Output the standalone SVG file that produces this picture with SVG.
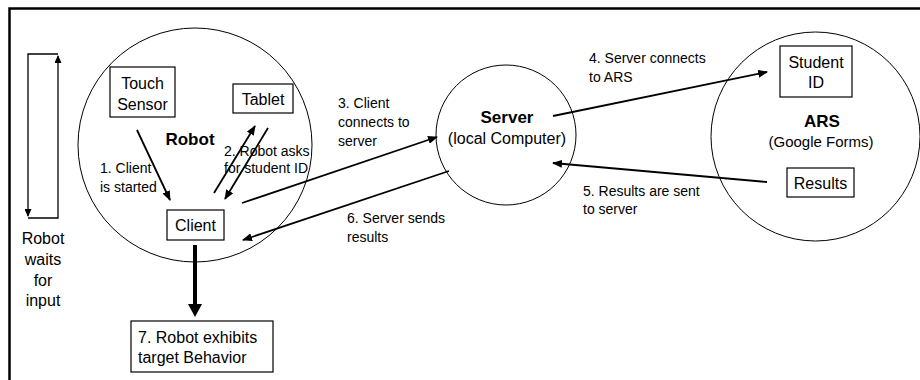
<svg xmlns="http://www.w3.org/2000/svg" width="920" height="380" viewBox="0 0 920 380">
<style>
.t{font-family:"Liberation Sans",Arial,sans-serif;font-size:16px;fill:#000}
.b{font-weight:bold;font-size:17px}
.l{font-size:14px}
.m{text-anchor:middle}
.box{fill:#fff;stroke:#000;stroke-width:1.2}
.circ{fill:none;stroke:#000;stroke-width:1}
.arr{fill:none;stroke:#000;stroke-width:1.8;marker-end:url(#ah)}
</style>
<defs>
<marker id="ah" markerUnits="userSpaceOnUse" markerWidth="10" markerHeight="8" refX="9" refY="4" orient="auto">
<path d="M0,0 L10,4 L0,8 Z" fill="#000"/>
</marker>
<marker id="ahs" markerUnits="userSpaceOnUse" markerWidth="8" markerHeight="7" refX="7" refY="3.5" orient="auto">
<path d="M0,0 L8,3.5 L0,7 Z" fill="#000"/>
</marker>
</defs>
<rect width="920" height="380" fill="#fff"/>
<!-- frame (top and left borders) -->
<path d="M9.5,380 V8.5 H920" fill="none" stroke="#000" stroke-width="2.5"/>

<g id="robot">
<circle class="circ" cx="195" cy="145" r="117"/>
<text class="t b m" x="190" y="145">Robot</text>
</g>
<g id="touch-sensor">
<rect class="box" x="110" y="67" width="65" height="50"/>
<text class="t m" x="142.5" y="89">Touch</text>
<text class="t m" x="142.5" y="110">Sensor</text>
</g>
<g id="tablet">
<rect class="box" x="233" y="84" width="60" height="29"/>
<text class="t m" x="263" y="105">Tablet</text>
</g>
<g id="client">
<rect class="box" x="167" y="210" width="57" height="30"/>
<text class="t m" x="195.5" y="231">Client</text>
</g>
<g id="behavior">
<rect class="box" x="131" y="321" width="142" height="51"/>
<text class="t" x="138" y="343">7. Robot exhibits</text>
<text class="t" x="138" y="363">target Behavior</text>
</g>
<g id="robot-waits">
<text class="t m" x="43" y="244">Robot</text>
<text class="t m" x="43" y="265">waits</text>
<text class="t m" x="43" y="286">for</text>
<text class="t m" x="43" y="306">input</text>
</g>
<g id="server">
<circle class="circ" cx="506" cy="135" r="70"/>
<text class="t b m" x="507" y="123">Server</text>
<text class="t m" x="507" y="144">(local Computer)</text>
</g>
<g id="ars">
<circle class="circ" cx="815.5" cy="136.5" r="104.5"/>
<text class="t b m" x="822" y="127">ARS</text>
<text class="t m" x="821" y="147" style="font-size:15px">(Google Forms)</text>
</g>
<g id="student-id">
<rect class="box" x="780" y="46" width="72" height="51"/>
<text class="t m" x="816" y="68">Student</text>
<text class="t m" x="816" y="88">ID</text>
</g>
<g id="results">
<rect class="box" x="787" y="168" width="67" height="29"/>
<text class="t m" x="820.5" y="189">Results</text>
</g>

<g id="connectors">
<!-- loop -->
<path d="M28,218 H58 V56" fill="none" stroke="#000" stroke-width="1.3" marker-end="url(#ahs)"/>
<path d="M58,54 H28 V216" fill="none" stroke="#000" stroke-width="1.3" marker-end="url(#ahs)"/>
<!-- 1 -->
<line class="arr" x1="137" y1="130" x2="170" y2="200"/>
<!-- 2 -->
<line class="arr" x1="214" y1="193" x2="255" y2="126"/>
<line class="arr" x1="268" y1="128" x2="225" y2="199"/>
<!-- 3 -->
<line class="arr" x1="242" y1="203" x2="437" y2="137"/>
<!-- 6 -->
<line class="arr" x1="449" y1="171" x2="243" y2="240"/>
<!-- 4 -->
<line class="arr" x1="553" y1="116" x2="767" y2="72"/>
<!-- 5 -->
<line class="arr" x1="767" y1="182" x2="553" y2="163"/>
<!-- 7 thick -->
<line x1="195" y1="245" x2="195" y2="306" stroke="#000" stroke-width="4"/>
<path d="M188,304 L202,304 L195,317 Z" fill="#000"/>
</g>

<g id="labels">
<text class="t l" x="100" y="173">1. Client</text>
<text class="t l" x="100" y="192">is started</text>
<text class="t l" x="224" y="156">2. Robot asks</text>
<text class="t l" x="224" y="173">for student ID</text>
<text class="t l" x="338" y="108">3. Client</text>
<text class="t l" x="338" y="127">connects to</text>
<text class="t l" x="338" y="146">server</text>
<text class="t l" x="589" y="63">4. Server connects</text>
<text class="t l" x="589" y="82">to ARS</text>
<text class="t l" x="583" y="196">5. Results are sent</text>
<text class="t l" x="583" y="214">to server</text>
<text class="t l" x="347" y="223">6. Server sends</text>
<text class="t l" x="347" y="242">results</text>
</g>
</svg>
